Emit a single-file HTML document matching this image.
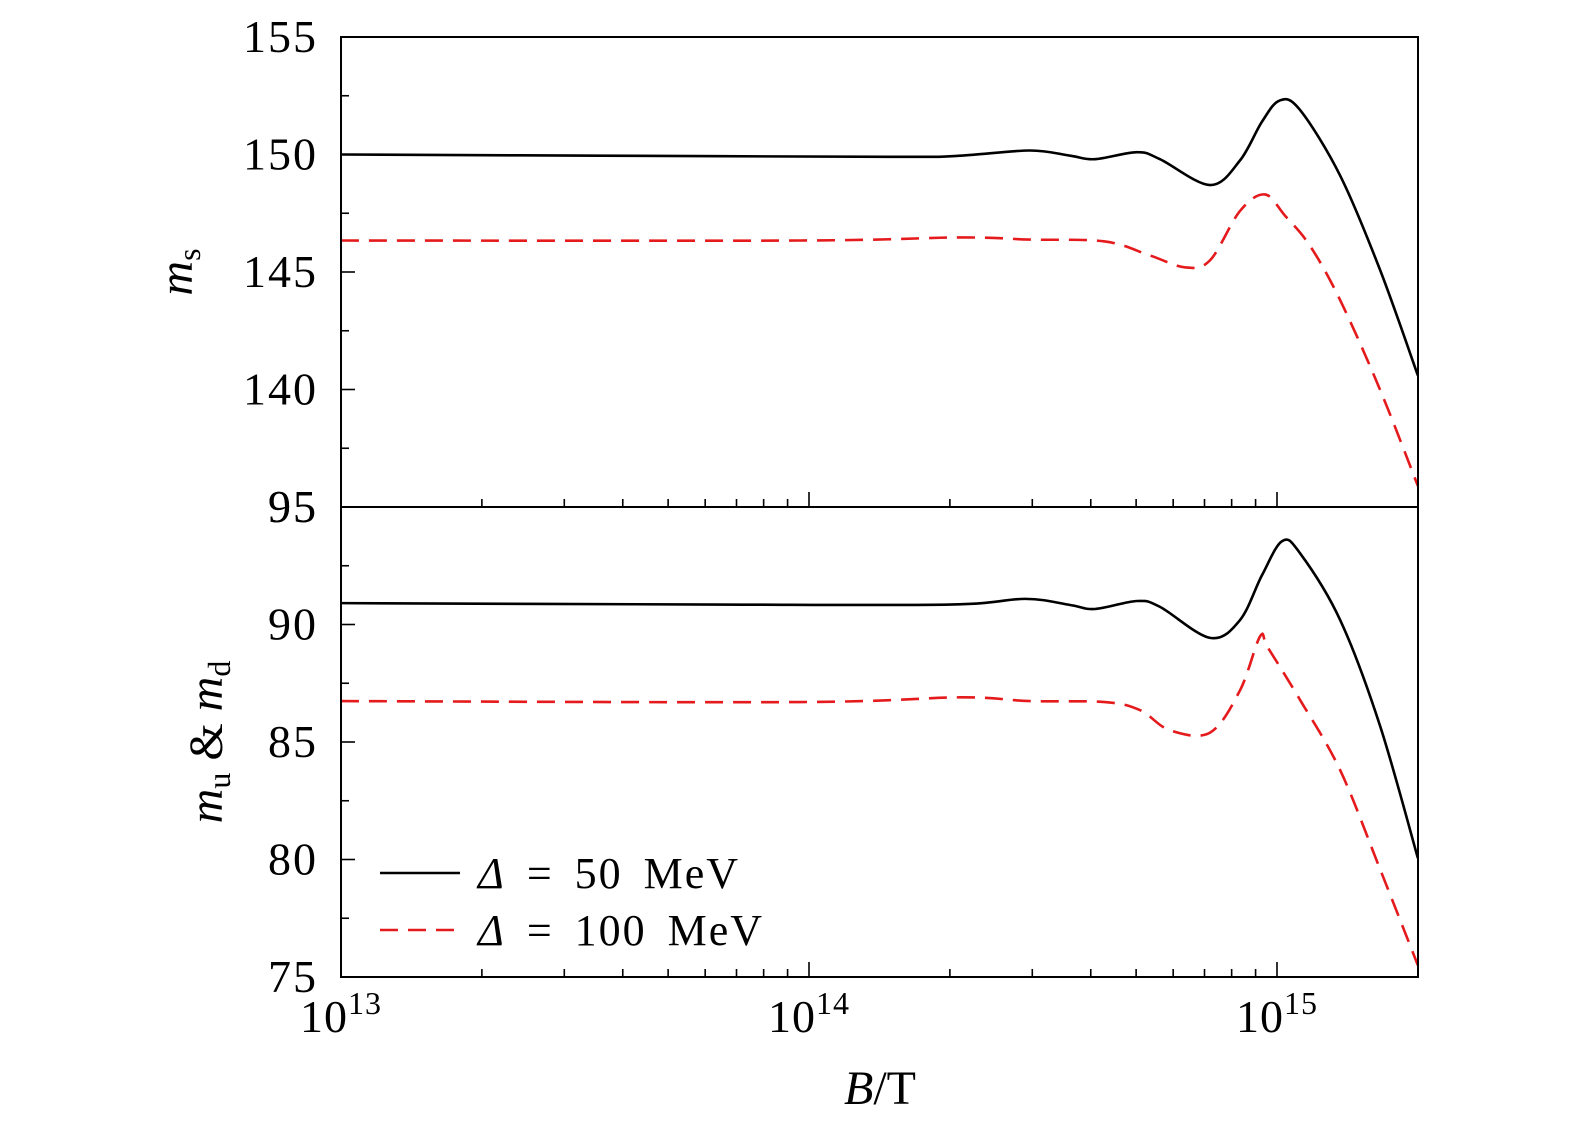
<!DOCTYPE html>
<html><head><meta charset="utf-8"><style>
html,body{margin:0;padding:0;background:#fff;}
svg{display:block;font-family:"Liberation Serif",serif;}
</style></head><body>
<svg id="chart" width="1575" height="1132" viewBox="0 0 1575 1132">
<g id="marks"></g>
<g id="axes"></g>
</svg>
<script>
// x values are log10(B/T)
const sTopX = [13.0,13.553,14.194,14.323,14.472,14.558,14.611,14.701,14.75,14.857,14.921,14.968,15.006,15.049,15.135,15.22,15.301];
const sTopY = [150.0,149.95,149.9,149.95,150.17,149.95,149.8,150.1,149.8,148.7,149.75,151.4,152.3,151.9,149.1,145.1,140.6];
const dTopX = [13.0,13.981,14.323,14.472,14.632,14.729,14.803,14.857,14.921,14.974,15.017,15.071,15.135,15.22,15.301];
const dTopY = [146.34,146.34,146.47,146.38,146.3,145.7,145.2,145.5,147.6,148.3,147.4,146.1,143.8,140.0,135.9];
const sBotX = [13.0,13.8,14.3,14.462,14.558,14.611,14.701,14.75,14.857,14.921,14.968,15.011,15.049,15.135,15.22,15.301];
const sBotY = [90.91,90.85,90.85,91.09,90.83,90.66,91.0,90.75,89.43,90.19,92.1,93.55,93.04,90.19,85.7,80.06];
const dBotX = [13.0,13.981,14.323,14.472,14.632,14.707,14.771,14.857,14.921,14.964,14.981,15.049,15.135,15.22,15.301];
const dBotY = [86.74,86.7,86.9,86.74,86.7,86.36,85.5,85.4,87.2,89.5,89.0,86.8,83.8,79.6,75.5];
const topTicks = [155,150,145,140];
const botTicks = [95,90,85,80,75];
const xDecades = [13,14,15];

const L=341,R=1418,T1=37,B1=507,T2=507,B2=977;
const xs = v => L + (v-13)*468;
const yTop = v => B1 - (v-135)*23.5;
const yBot = v => B2 - (v-75)*23.5;
const NS="http://www.w3.org/2000/svg";
const marks=document.getElementById('marks'), axes=document.getElementById('axes');
function mk(tag,attrs,parent){const e=document.createElementNS(NS,tag);for(const k in attrs)e.setAttribute(k,attrs[k]);parent.appendChild(e);return e;}
function smooth(pts){
  let d=`M${pts[0][0]},${pts[0][1]}`;
  for(let i=0;i<pts.length-1;i++){
    const p0=pts[Math.max(0,i-1)],p1=pts[i],p2=pts[i+1],p3=pts[Math.min(pts.length-1,i+2)];
    const c1=[p1[0]+(p2[0]-p0[0])/6,p1[1]+(p2[1]-p0[1])/6];
    const c2=[p2[0]-(p3[0]-p1[0])/6,p2[1]-(p3[1]-p1[1])/6];
    d+=` C${c1[0]},${c1[1]} ${c2[0]},${c2[1]} ${p2[0]},${p2[1]}`;
  }
  return d;
}
function series(xa,ya,yf,dashed,name){
  const pts=xa.map((x,i)=>[xs(x),yf(ya[i])]);
  const p=mk('path',{d:smooth(pts),fill:'none',stroke:dashed?'#e41a1c':'#000','stroke-width':2.6},marks);
  if(dashed)p.setAttribute('stroke-dasharray','18 10');
  
  
}
series(sTopX,sTopY,yTop,false,'ms-delta50-line');
series(dTopX,dTopY,yTop,true,'ms-delta100-line');
series(sBotX,sBotY,yBot,false,'mud-delta50-line');
series(dBotX,dBotY,yBot,true,'mud-delta100-line');

mk('rect',{x:L,y:T1,width:R-L,height:B2-T1,fill:'none',stroke:'#000','stroke-width':2},axes);
mk('line',{x1:L,x2:R,y1:B1,y2:B1,stroke:'#000','stroke-width':2},axes);
function yticks(ticks,yf,lo,panel){
  for(let v=lo; v<=lo+20; v+=2.5){
    const major=(v%5===0);
    mk('line',{x1:L,x2:L+(major?14:8),y1:yf(v),y2:yf(v),stroke:'#000','stroke-width':1.6},axes);
  }
  ticks.forEach(t=>{
    const v = panel==='top' && t===95 ? 135 : t;
    const tx=mk('text',{x:318,y:yf(v)+15,'text-anchor':'end','font-size':46,'letter-spacing':2},axes);
    tx.textContent=t;
    
    
  });
}
yticks(topTicks,yTop,135,'top');
yticks(botTicks,yBot,75,'bottom');
const t95=mk('text',{x:318,y:B1+15,'text-anchor':'end','font-size':46,'letter-spacing':2},axes);
t95.textContent='95';


[B1,B2].forEach(yb=>{
  for(let d=13; d<=15; d++){
    for(let m=1;m<=9;m++){
      const lv=d+Math.log10(m);
      if(lv>15.302)break;
      const x=xs(lv);
      mk('line',{x1:x,x2:x,y1:yb,y2:yb-(m===1?15:8),stroke:'#000','stroke-width':1.6},axes);
    }
  }
});
xDecades.forEach(d=>{
  const t=mk('text',{x:xs(d),y:1032,'text-anchor':'middle','font-size':46,'letter-spacing':1},axes);
  t.innerHTML=`10<tspan dy="-18" font-size="32">${d}</tspan>`;
  
  
});
</script>
<svg style="position:absolute;left:0;top:0" width="1575" height="1132">
<text x="880" y="1104" text-anchor="middle" font-size="48" font-family="Liberation Serif,serif"><tspan font-style="italic">B</tspan>/T</text>
<text transform="translate(192,272) rotate(-90)" text-anchor="middle" font-size="48" font-family="Liberation Serif,serif"><tspan font-style="italic">m</tspan><tspan font-size="32" dy="8">s</tspan></text>
<text transform="translate(222,742) rotate(-90)" text-anchor="middle" font-size="48" font-family="Liberation Serif,serif"><tspan font-style="italic">m</tspan><tspan font-size="32" dy="8">u</tspan><tspan dy="-8"> &amp; </tspan><tspan font-style="italic">m</tspan><tspan font-size="32" dy="8">d</tspan></text>
<g font-family="Liberation Serif,serif" font-size="44" letter-spacing="2" word-spacing="8">
<line x1="380" x2="460" y1="873" y2="873" stroke="#000" stroke-width="2.6"/>
<text x="478" y="888"><tspan font-style="italic">Δ</tspan> = 50 MeV</text>
<line x1="380" x2="460" y1="930" y2="930" stroke="#e41a1c" stroke-width="2.6" stroke-dasharray="18 10"/>
<text x="478" y="945"><tspan font-style="italic">Δ</tspan> = 100 MeV</text>
</g>
</svg>
</body></html>
